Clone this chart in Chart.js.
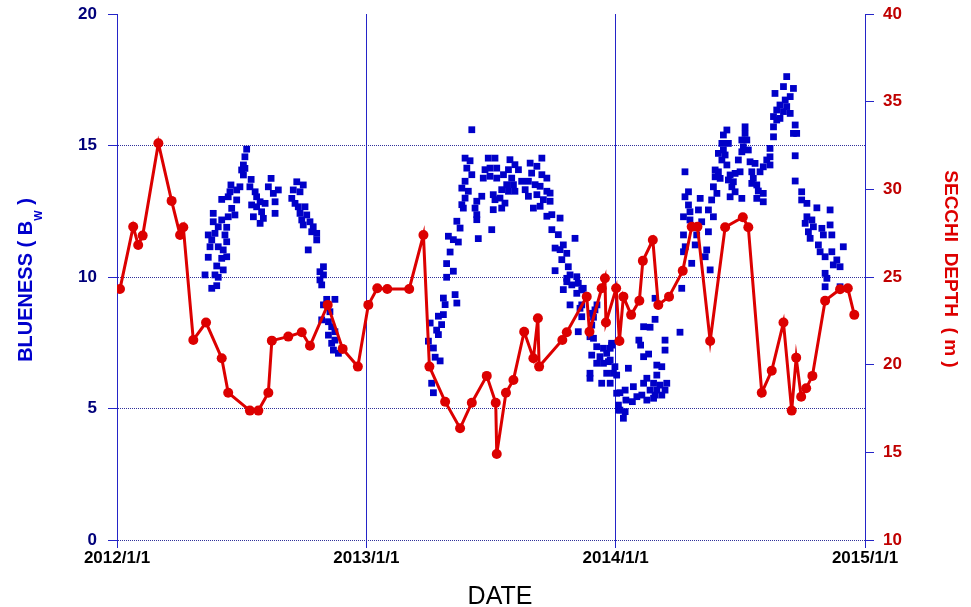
<!DOCTYPE html>
<html>
<head>
<meta charset="utf-8">
<script src="https://cdn.jsdelivr.net/npm/chart.js@4.4.1/dist/chart.umd.min.js"></script>
<style>
    html, body { margin: 0; padding: 0; background: #fff; }
    #wrap { width: 971px; height: 607px; }
</style>
</head>
<body>
<div id="wrap"><canvas id="chart" width="971" height="607"></canvas></div>
<script>
(function () {
    "use strict";

    // x tick positions (decimal years) and their labels
    const xTickYears = [2012, 2013, 2014, 2015];
    const xTickLabels = ["2012/1/1", "2013/1/1", "2014/1/1", "2015/1/1"];

    // Secchi depth (m), right axis, decimal year
    const secchiDate = [
        2012.012, 2012.065, 2012.085, 2012.103, 2012.166, 2012.219, 2012.253, 2012.266, 2012.306, 2012.357,
        2012.420, 2012.446, 2012.533, 2012.567, 2012.607, 2012.621, 2012.687, 2012.741, 2012.774, 2012.845,
        2012.905, 2012.966, 2013.008, 2013.044, 2013.084, 2013.172, 2013.229, 2013.253, 2013.316, 2013.376,
        2013.423, 2013.483, 2013.519, 2013.523, 2013.560, 2013.590, 2013.633, 2013.670, 2013.688, 2013.693,
        2013.786, 2013.804, 2013.884, 2013.895, 2013.944, 2013.957, 2013.961, 2014.002, 2014.015, 2014.031,
        2014.062, 2014.095, 2014.109, 2014.149, 2014.171, 2014.214, 2014.269, 2014.305, 2014.328, 2014.379,
        2014.439, 2014.510, 2014.532, 2014.586, 2014.626, 2014.673, 2014.706, 2014.724, 2014.744, 2014.764,
        2014.789, 2014.840, 2014.900, 2014.931, 2014.957,
    ];
    const secchiDepth = [
        24.32, 27.87, 26.83, 27.36, 32.63, 29.34, 27.40, 27.84, 21.41, 22.40,
        20.37, 18.40, 17.38, 17.38, 18.40, 21.37, 21.60, 21.85, 21.08, 23.41,
        20.90, 19.89, 23.41, 24.36, 24.32, 24.32, 27.40, 19.89, 17.89, 16.37,
        17.83, 19.36, 17.83, 14.91, 18.40, 19.13, 21.88, 20.37, 22.65, 19.89,
        21.41, 21.85, 23.88, 21.88, 24.36, 24.93, 22.40, 24.36, 21.35, 23.88,
        22.84, 23.65, 25.92, 27.11, 23.40, 23.88, 25.35, 27.87, 27.87, 21.35,
        27.84, 28.41, 27.84, 18.40, 19.66, 22.40, 17.38, 20.40, 18.17, 18.65,
        19.36, 23.65, 24.30, 24.36, 22.84,
    ];

    // Blueness (Bw), left axis: offset in years from 2012/1/1
    const blueDate = [
        // 2012
        .520, .513, .507, .500, .513, .507, .538, .618, .721, .747,
        .457, .493, .533, .607, .647, .453, .480, .554, .627, .707,
        .734, .446, .560, .634, .420, .480, .540, .574, .594, .701,
        .714, .727, .754, .460, .560, .580, .634, .386, .473, .547,
        .587, .734, .761, .446, .420, .386, .574, .741, .774, .406,
        .440, .747, .787, .393, .366, .433, .781, .801, .380, .440,
        .801, .373, .406, .426, .767, .366, .420, .440, .400, .426,
        .828, .814, .353, .393, .406, .828, .814, .400, .380, .821,
        .841, .874, .828, .854, .821, .848, .861, .874, .848, .874,
        .861, .868, .888,
        // 2013
        1.423, 1.396, 1.416, 1.403, 1.423, 1.396, 1.383, 1.409, 1.396, 1.383,
        1.389, 1.463, 1.443, 1.436, 1.443, 1.443, 1.363, 1.376, 1.503, 1.449,
        1.329, 1.349, 1.369, 1.336, 1.322, 1.349, 1.322, 1.356, 1.363, 1.309,
        1.316, 1.289, 1.256, 1.309, 1.302, 1.289, 1.249, 1.269, 1.489, 1.516,
        1.476, 1.496, 1.523, 1.469, 1.496, 1.523, 1.550, 1.576, 1.596, 1.570,
        1.610, 1.583, 1.563, 1.590, 1.623, 1.543, 1.570, 1.596, 1.509, 1.536,
        1.516, 1.556, 1.543, 1.509, 1.657, 1.684, 1.704, 1.663, 1.704, 1.724,
        1.650, 1.677, 1.697, 1.724, 1.737, 1.637, 1.650, 1.684, 1.710, 1.737,
        1.670, 1.697, 1.724, 1.744, 1.777, 1.744, 1.770, 1.757, 1.777, 1.784,
        1.757, 1.790,
        1.276, 1.296, 1.262, 1.269, 1.282, 1.837, 1.804, 1.810, 1.817, 1.844,
        1.804, 1.824, 1.850, 1.864, 1.817, 1.857, 1.864, 1.850, 1.904, 1.897,
        1.911, 1.924, 1.951, 1.937, 1.964, 1.978, 1.951, 1.904, 1.897, 1.897,
        1.944, 1.978, 1.964, 1.991, 2.004, 2.011, 1.984,
        // turn of 2013/2014
        1.790, 1.804, 1.870, 1.844, 1.864, 1.925, 1.917, 1.911, 1.904, 1.984,
        1.978, 1.971, 1.924, 1.997, 2.004, 2.017, 2.038, 2.071, 2.085, 2.041,
        2.067, 2.017, 2.038, 2.031, 2.011, 2.051, 2.112, 2.138, 2.158, 2.093,
        2.100, 2.112, 2.132, 2.165, 2.185, 2.165, 2.125, 2.112, 2.152, 2.178,
        2.205, 2.138, 2.165, 2.198, 2.158, 2.185, 2.125, 2.152, 2.105, 2.198,
        2.198, 2.258, 2.265, 2.158,
        // 2014
        2.686, 2.673, 2.713, 2.639, 2.700, 2.680, 2.659, 2.686, 2.646, 2.673,
        2.700, 2.633, 2.659, 2.646, 2.633, 2.720, 2.713, 2.726, 2.633, 2.720,
        2.720, 2.746, 2.746, 2.767, 2.807, 2.860, 2.767, 2.787, 2.760, 2.793,
        2.773, 2.780, 2.827, 2.860, 2.833, 2.867, 2.813, 2.820, 2.840, 2.867,
        2.873, 2.840, 2.847, 2.840, 2.619, 2.619, 2.606, 2.619, 2.592, 2.579,
        2.559, 2.539, 2.546, 2.552, 2.546, 2.566, 2.572, 2.592, 2.566, 2.592,
        2.519, 2.519, 2.506, 2.526, 2.512, 2.532, 2.506, 2.492, 2.499, 2.479,
        2.459, 2.446, 2.432, 2.426, 2.452, 2.432, 2.412, 2.439, 2.426, 2.446,
        2.399, 2.412, 2.399, 2.419, 2.452, 2.472, 2.392, 2.466, 2.479, 2.406,
        2.459, 2.506, 2.385, 2.278, 2.292, 2.278, 2.339, 2.292, 2.372, 2.332,
        2.298, 2.272, 2.392, 2.298, 2.345, 2.325, 2.272, 2.372, 2.319, 2.279,
        2.272, 2.365, 2.359, 2.305, 2.379, 2.913, 2.887, 2.900, 2.900,
    ];
    const blueValue = [
        // 2012
        14.86, 14.57, 14.26, 14.07, 14.13, 13.88, 13.71, 13.75, 13.62, 13.50,
        13.50, 13.43, 13.43, 13.43, 13.31, 13.24, 13.31, 13.24, 13.18, 13.31,
        13.24, 13.05, 13.05, 12.86, 12.95, 12.93, 12.74, 12.86, 12.80, 12.99,
        12.80, 12.67, 12.67, 12.61, 12.67, 12.48, 12.42, 12.42, 12.36, 12.29,
        12.23, 12.42, 12.36, 12.29, 12.17, 12.10, 12.04, 12.17, 12.10, 11.91,
        11.89, 11.98, 11.91, 11.66, 11.60, 11.60, 11.72, 11.66, 11.41, 11.34,
        11.41, 11.15, 11.15, 11.03, 11.03, 10.75, 10.71, 10.77, 10.42, 10.27,
        10.39, 10.20, 10.08, 10.08, 9.99, 10.08, 9.89, 9.67, 9.57, 9.70,
        9.15, 9.15, 8.94, 8.68, 8.37, 8.30, 8.11, 7.92, 7.79, 7.60,
        7.48, 7.22, 7.10,
        // 2013
        15.60, 14.52, 14.42, 14.14, 13.89, 13.64, 13.38, 13.26, 13.00, 12.75,
        12.62, 13.07, 12.88, 12.62, 12.37, 12.18, 12.12, 11.86, 11.80, 11.46,
        11.55, 11.42, 11.33, 10.95, 10.51, 10.22, 9.99, 9.33, 9.01, 9.20,
        8.95, 8.51, 8.25, 8.57, 8.19, 7.81, 7.56, 7.30, 14.52, 14.52,
        14.08, 14.14, 14.14, 13.76, 13.83, 13.76, 13.89, 14.46, 14.27, 14.08,
        14.08, 13.76, 13.51, 13.51, 13.64, 13.32, 13.26, 13.26, 13.13, 13.00,
        12.94, 12.81, 12.62, 12.56, 14.33, 14.21, 14.52, 13.95, 13.89, 13.76,
        13.64, 13.51, 13.45, 13.26, 13.19, 13.32, 13.07, 13.13, 12.94, 12.88,
        12.62, 12.69, 12.31, 12.37, 12.24, 11.80, 11.61, 11.10, 11.04, 10.66,
        10.24, 9.52,
        6.95, 6.81, 5.96, 5.60, 7.98, 11.47, 10.90, 10.39, 10.08, 10.01,
        9.82, 9.70, 9.76, 9.51, 8.94, 8.81, 8.49, 7.92, 8.62, 7.73,
        7.67, 7.35, 7.29, 6.97, 7.10, 6.84, 6.72, 7.03, 6.34, 6.15,
        5.96, 5.96, 6.34, 6.34, 5.58, 4.94, 7.41,
        // turn of 2013/2014
        11.22, 9.95, 9.57, 9.38, 8.94, 8.94, 8.75, 8.47, 8.17, 7.48,
        7.29, 6.78, 6.72, 6.59, 6.27, 5.60, 5.70, 5.83, 5.45, 5.32,
        5.26, 4.94, 4.88, 4.63, 5.13, 6.53, 8.11, 8.09, 8.39, 7.60,
        7.41, 6.97, 7.07, 6.65, 6.59, 6.27, 6.15, 5.96, 5.96, 5.89,
        5.96, 5.70, 5.70, 5.70, 5.51, 5.51, 5.32, 5.39, 5.51, 7.60,
        7.22, 7.90, 9.57, 9.19,
        // 2014
        17.62, 17.24, 17.17, 16.98, 16.86, 16.73, 16.54, 16.48, 16.35, 16.29,
        16.22, 16.10, 16.03, 15.97, 15.71, 15.78, 15.46, 15.46, 15.33, 14.61,
        13.65, 13.24, 12.93, 12.80, 12.63, 12.55, 12.29, 12.17, 12.04, 11.91,
        11.72, 11.47, 11.85, 11.98, 11.60, 11.60, 11.22, 10.96, 10.77, 10.96,
        10.46, 10.14, 9.95, 9.63, 14.89, 14.57, 14.45, 14.26, 14.19, 14.00,
        14.32, 14.38, 14.00, 13.75, 13.56, 13.50, 13.27, 13.18, 12.99, 12.86,
        15.71, 15.46, 15.21, 15.21, 14.95, 14.83, 14.76, 14.45, 14.00, 13.94,
        13.88, 15.59, 15.40, 15.08, 15.08, 14.83, 14.70, 14.64, 14.45, 14.26,
        14.07, 14.00, 13.81, 13.75, 13.69, 13.62, 13.43, 13.43, 13.24, 13.18,
        13.05, 12.99, 12.93, 14.00, 13.24, 13.05, 12.99, 12.74, 12.55, 12.55,
        12.48, 12.29, 12.29, 12.17, 12.10, 11.60, 11.60, 11.72, 11.22, 11.15,
        10.96, 11.03, 10.77, 10.52, 10.27, 11.15, 10.65, 10.39, 9.63,
    ];

    const FONT = "'Liberation Sans', Arial, sans-serif";
    const AXIS_BLUE = "#2424c8";
    const GRID_DOT = "#30309a";
    const RED = "#dc0000";
    const BLUE = "#0000c8";

    const secchiPoints = secchiDate.map((d, i) => ({ x: d, y: secchiDepth[i] }));
    const bluePoints = blueDate.map((d, i) => ({ x: 2012 + d, y: blueValue[i] }));

    // axis titles (left one needs a subscript)
    const axisTitles = {
        id: "axisTitles",
        afterDraw(chart) {
            const ctx = chart.ctx;
            const big = "bold 20px " + FONT;
            const small = "bold 11px " + FONT;

            // BLUENESS ( Bw )
            ctx.save();
            ctx.translate(32, 280);
            ctx.rotate(-Math.PI / 2);
            ctx.fillStyle = "#0000cc";
            ctx.textBaseline = "alphabetic";
            ctx.textAlign = "left";
            ctx.font = big;
            const wMain = ctx.measureText("BLUENESS ( B").width;
            const wClose = ctx.measureText(" )").width;
            ctx.font = small;
            const wSub = ctx.measureText("W").width;
            let x = -(wMain + wSub + wClose) / 2;
            ctx.font = big;
            ctx.fillText("BLUENESS ( B", x, 0);
            x += wMain;
            ctx.font = small;
            ctx.fillText("W", x, 10);
            x += wSub;
            ctx.font = big;
            ctx.fillText(" )", x, 0);
            ctx.restore();

            // SECCHI DEPTH ( m )
            ctx.save();
            ctx.translate(945, 269);
            ctx.rotate(Math.PI / 2);
            ctx.fillStyle = "#dd0000";
            ctx.font = "bold 19px " + FONT;
            ctx.textAlign = "center";
            ctx.textBaseline = "alphabetic";
            ctx.fillText("SECCHI  DEPTH  ( m )", 0, 0);
            ctx.restore();

            // DATE
            ctx.save();
            ctx.fillStyle = "#000";
            ctx.font = "25px " + FONT;
            ctx.textAlign = "center";
            ctx.textBaseline = "alphabetic";
            ctx.fillText("DATE", 500, 604);
            ctx.restore();
        },
    };

    new Chart(document.getElementById("chart"), {
        type: "scatter",
        data: {
            datasets: [
                {
                    label: "SECCHI DEPTH",
                    data: secchiPoints,
                    yAxisID: "y2",
                    showLine: true,
                    borderColor: RED,
                    borderWidth: 3,
                    pointRadius: 5,
                    pointBackgroundColor: RED,
                    pointBorderColor: RED,
                    pointBorderWidth: 0,
                    order: 0,
                },
                {
                    label: "BLUENESS",
                    data: bluePoints,
                    yAxisID: "y",
                    showLine: false,
                    pointStyle: "rect",
                    pointRadius: 4.8,
                    pointBackgroundColor: BLUE,
                    pointBorderColor: BLUE,
                    pointBorderWidth: 0,
                    order: 1,
                },
            ],
        },
        options: {
            responsive: false,
            animation: false,
            layout: { padding: { top: 14, left: 0, right: 0, bottom: 0 } },
            plugins: {
                legend: { display: false },
                tooltip: { enabled: false },
            },
            scales: {
                x: {
                    type: "linear",
                    position: "bottom",
                    min: 2012,
                    max: 2015,
                    afterBuildTicks: (scale) => {
                        scale.ticks = xTickYears.map((v) => ({ value: v }));
                    },
                    afterFit: (scale) => {
                        scale.height = 67;
                    },
                    ticks: {
                        autoSkip: false,
                        maxRotation: 0,
                        padding: 0,
                        color: "#000",
                        font: { family: FONT, size: 17, weight: "bold" },
                        callback: (value, index) => xTickLabels[index],
                    },
                    grid: {
                        color: AXIS_BLUE,
                        lineWidth: 1,
                        tickLength: 8,
                        tickColor: AXIS_BLUE,
                    },
                    border: { display: false },
                },
                y: {
                    position: "left",
                    min: 0,
                    max: 20,
                    afterFit: (scale) => {
                        scale.width = 117;
                        scale.paddingTop = 0;
                        scale.paddingBottom = 0;
                    },
                    ticks: {
                        stepSize: 5,
                        padding: 11,
                        color: "#00007a",
                        font: { family: FONT, size: 17, weight: "bold" },
                    },
                    grid: {
                        color: (c) => (c.tick && c.tick.value === 20 ? "rgba(0,0,0,0)" : GRID_DOT),
                        lineWidth: 1,
                        tickLength: 9,
                        tickColor: AXIS_BLUE,
                        tickBorderDash: [],
                    },
                    border: { display: true, color: AXIS_BLUE, width: 1, dash: [1, 1] },
                },
                y2: {
                    position: "right",
                    min: 10,
                    max: 40,
                    afterFit: (scale) => {
                        scale.width = 106;
                        scale.paddingTop = 0;
                        scale.paddingBottom = 0;
                    },
                    ticks: {
                        stepSize: 5,
                        padding: 9,
                        color: "#c00000",
                        font: { family: FONT, size: 17, weight: "bold" },
                    },
                    grid: {
                        drawOnChartArea: false,
                        tickLength: 9,
                        tickColor: AXIS_BLUE,
                    },
                    border: { display: true, color: AXIS_BLUE, width: 1 },
                },
            },
        },
        plugins: [axisTitles],
    });
})();
</script>
</body>
</html>
